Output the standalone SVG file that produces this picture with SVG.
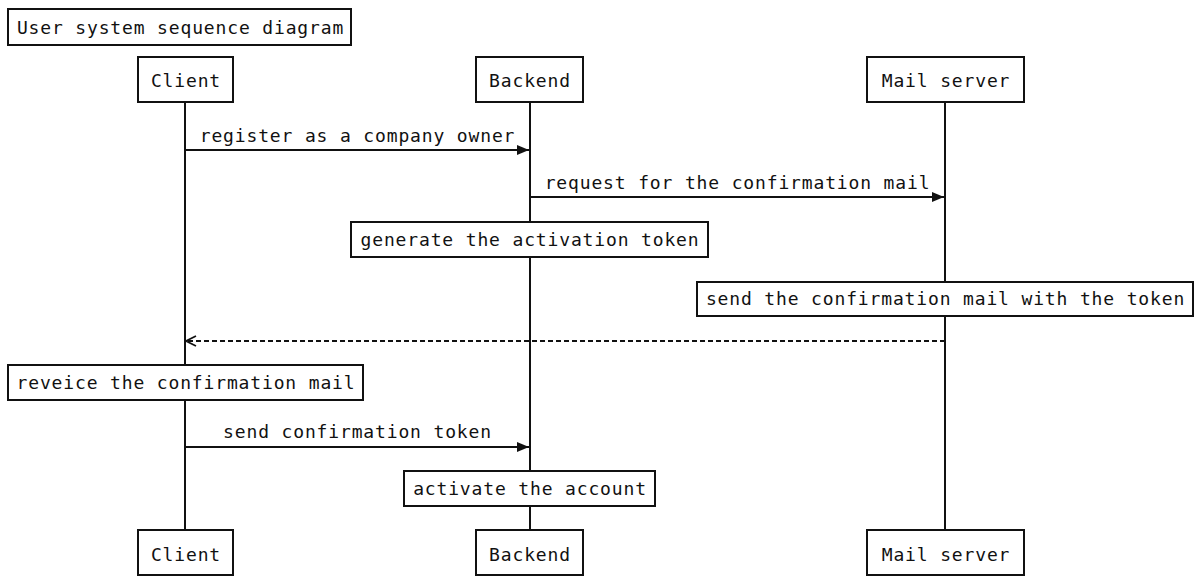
<svg xmlns="http://www.w3.org/2000/svg" width="1195" height="577" viewBox="0 0 1195 577">
  <style>
    text { font-family: "DejaVu Sans Mono", "Liberation Mono", monospace; font-size: 18px; letter-spacing: 0.85px; fill: #111; text-anchor: middle; }
    .box { fill: #fff; stroke: #111; stroke-width: 2; }
    .life { stroke: #111; stroke-width: 2; fill: none; }
    .msg { stroke: #111; stroke-width: 2; fill: none; }
    .ret { stroke: #111; stroke-width: 2; fill: none; stroke-dasharray: 5 3; }
  </style>
  <defs>
    <marker id="solid" viewBox="0 0 12 10" refX="12" refY="5" markerWidth="12" markerHeight="10" markerUnits="userSpaceOnUse" orient="auto">
      <path d="M0,0 L12,5 L0,10 Z" fill="#111"/>
    </marker>
    <marker id="open" viewBox="0 0 12 12" refX="11" refY="6" markerWidth="12" markerHeight="12" markerUnits="userSpaceOnUse" orient="auto">
      <path d="M1,1 L11,6 L1,11" fill="none" stroke="#111" stroke-width="1.8"/>
    </marker>
  </defs>

  <rect width="1195" height="577" fill="#fff"/>

  <g id="title">
    <rect class="box" x="8" y="9" width="343" height="36"/>
    <text x="180.5" y="34">User system sequence diagram</text>
  </g>

  <!-- lifelines -->
  <g id="lifelines">
    <line class="life" x1="185" y1="102" x2="185" y2="530"/>
    <line class="life" x1="530" y1="102" x2="530" y2="530"/>
    <line class="life" x1="945" y1="102" x2="945" y2="530"/>
  </g>

  <!-- messages -->
  <g id="connectors">
    <line class="msg" x1="185" y1="150" x2="529" y2="150" marker-end="url(#solid)"/>
    <text x="357.5" y="142">register as a company owner</text>
    <line class="msg" x1="530" y1="197" x2="944" y2="197" marker-end="url(#solid)"/>
    <text x="737.5" y="189">request for the confirmation mail</text>
    <line class="ret" x1="945" y1="341" x2="186" y2="341" marker-end="url(#open)"/>
    <line class="msg" x1="185" y1="447" x2="529" y2="447" marker-end="url(#solid)"/>
    <text x="357.5" y="438">send confirmation token</text>
  </g>

  <!-- participants -->
  <g id="client-top">
    <rect class="box" x="138" y="57" width="95" height="45"/>
    <text x="186" y="87">Client</text>
  </g>
  <g id="backend-top">
    <rect class="box" x="476" y="57" width="107" height="45"/>
    <text x="530" y="87">Backend</text>
  </g>
  <g id="mailserver-top">
    <rect class="box" x="867" y="57" width="157" height="45"/>
    <text x="946" y="87">Mail server</text>
  </g>
  <g id="client-bottom">
    <rect class="box" x="138" y="530" width="95" height="45"/>
    <text x="186" y="561">Client</text>
  </g>
  <g id="backend-bottom">
    <rect class="box" x="476" y="530" width="107" height="45"/>
    <text x="530" y="561">Backend</text>
  </g>
  <g id="mailserver-bottom">
    <rect class="box" x="867" y="530" width="157" height="45"/>
    <text x="946" y="561">Mail server</text>
  </g>

  <!-- notes -->
  <g id="note-generate">
    <rect class="box" x="351" y="222" width="357" height="35"/>
    <text x="530" y="246">generate the activation token</text>
  </g>
  <g id="note-send-mail">
    <rect class="box" x="697" y="282" width="496" height="34"/>
    <text x="945.5" y="305">send the confirmation mail with the token</text>
  </g>
  <g id="note-receive">
    <rect class="box" x="8" y="365" width="355" height="35"/>
    <text x="186" y="389">reveice the confirmation mail</text>
  </g>
  <g id="note-activate">
    <rect class="box" x="404" y="471" width="251" height="35"/>
    <text x="530" y="495">activate the account</text>
  </g>
</svg>
